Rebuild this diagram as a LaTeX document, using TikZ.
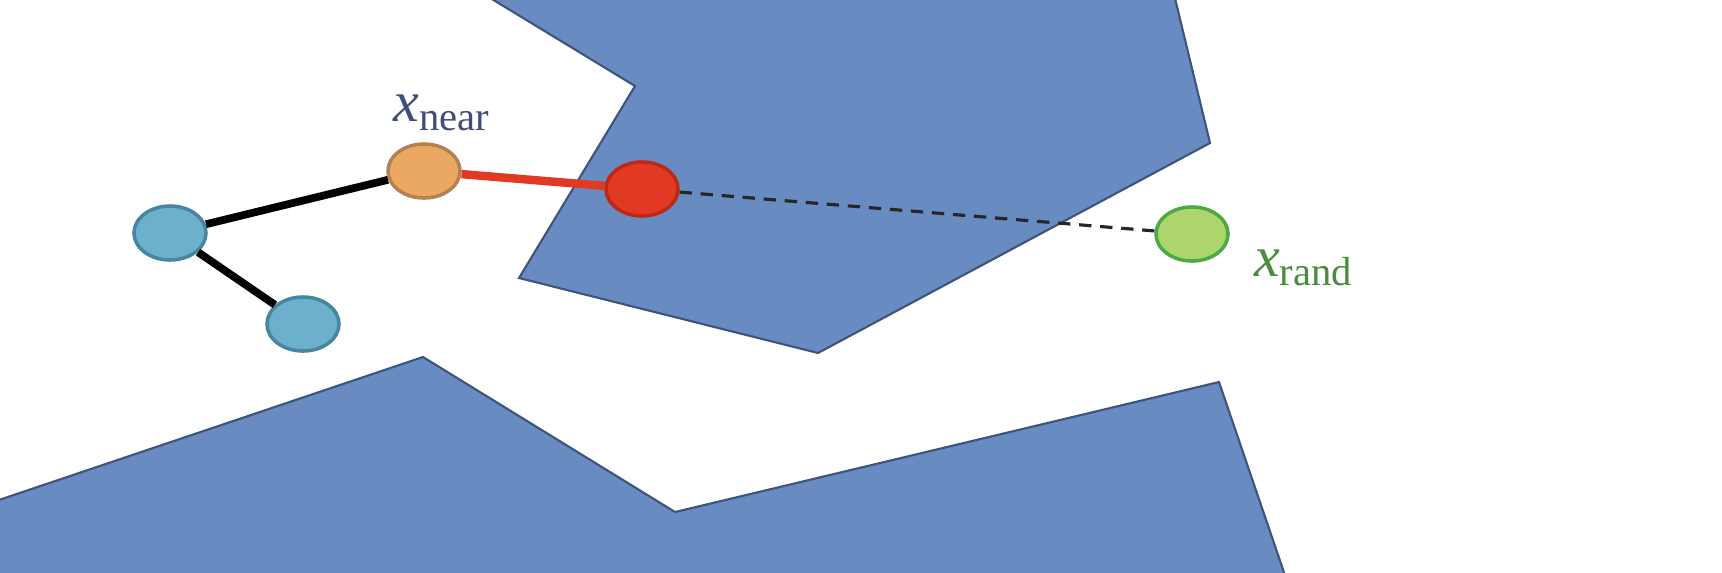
\documentclass[tikz,border=0pt]{standalone}
\usepackage{amsmath,amssymb}
\usepackage{fontspec}
\setmainfont{Liberation Serif}
\usetikzlibrary{shapes.geometric}
\definecolor{obsB}{RGB}{104,139,194}
\definecolor{obsE}{RGB}{62,84,124}
\definecolor{treeB}{RGB}{108,176,204}
\definecolor{treeE}{RGB}{70,134,160}
\definecolor{nearO}{RGB}{234,168,98}
\definecolor{nearE}{RGB}{180,130,80}
\definecolor{newR}{RGB}{226,58,34}
\definecolor{newE}{RGB}{190,40,24}
\definecolor{randG}{RGB}{174,212,108}
\definecolor{randE}{RGB}{78,168,70}
\definecolor{labB}{RGB}{66,78,120}
\definecolor{labG}{RGB}{72,140,60}

\begin{document}
\begin{tikzpicture}[x=0.01cm,y=-0.01cm,
  vtx/.style={ellipse,minimum width=0.72cm,minimum height=0.54cm,inner sep=0pt,line width=1pt},
  lab/.style={font=\fontsize{16.5}{20}\selectfont,inner sep=0pt}]
\useasboundingbox (0,0) rectangle (1722,572);
% obstacles
\filldraw[obsB,draw=obsE,line width=0.6pt] (477,-10)--(1173,-10)--(1210,143)--(818,353)--(519,278)--(635,86)--cycle;
\filldraw[obsB,draw=obsE,line width=0.6pt] (-10,503)--(423,357)--(675,512)--(1219,382)--(1290,590)--(-10,590)--cycle;
% tree
\node[vtx,fill=treeB,draw=treeE] (root) at (170,233) {};
\node[vtx,fill=treeB,draw=treeE] (leaf) at (303,324) {};
\node[vtx,fill=nearO,draw=nearE] (near) at (424,171) {};
\node[vtx,fill=newR,draw=newE] (new) at (642,189) {};
\node[vtx,fill=randG,draw=randE] (rand) at (1192,234) {};
\node[lab,text=labB] (nearlab) at (442,113) {\textit{x}$_{\text{near}}$};
\node[lab,text=labG] (randlab) at (1304,268) {\textit{x}$_{\text{rand}}$};
\draw[line width=2.2pt,black] (root)--(near);
\draw[line width=2.2pt,black] (root)--(leaf);
\draw[line width=2.4pt,newR] (near)--(new);
\draw[line width=0.9pt,dash pattern=on 3.5pt off 2.5pt,black!85] (new)--(rand);
\end{tikzpicture}
\end{document}
